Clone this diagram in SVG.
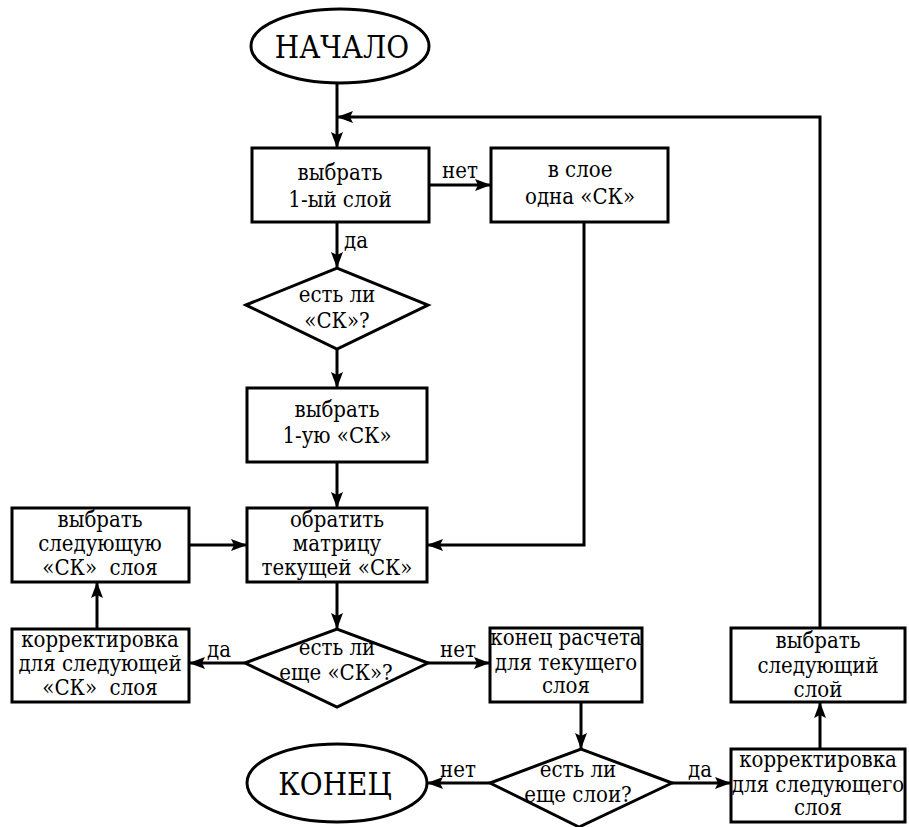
<svg xmlns="http://www.w3.org/2000/svg" width="909" height="827" viewBox="0 0 909 827">
<defs>
<marker id="arr" markerUnits="userSpaceOnUse" markerWidth="18" markerHeight="14" refX="16" refY="7" orient="auto">
<path d="M0,1 L16,7 L0,13 L3,7 z" fill="#000"/>
</marker>
<style>
.s{fill:#fff;stroke:#000;stroke-width:3}
.c{fill:none;stroke:#000;stroke-width:3;marker-end:url(#arr)}
text{font-family:'DejaVu Serif',serif;font-stretch:condensed;fill:#000;text-anchor:middle;font-size:22px}
.big{font-size:31px}
</style>
</defs>
<rect width="909" height="827" fill="#fff"/>
<g id="connectors">
<path class="c" d="M337,83 V148"/>
<path class="c" d="M820,628 V117 H337"/>
<path class="c" d="M429,185 H491"/>
<path class="c" d="M337,222 V268"/>
<path class="c" d="M337,349 V388"/>
<path class="c" d="M337,462 V508"/>
<path class="c" d="M584,222 V545 H427"/>
<path class="c" d="M189,545 H247"/>
<path class="c" d="M337,582 V629"/>
<path class="c" d="M245,663 H189"/>
<path class="c" d="M97,629 V582"/>
<path class="c" d="M428,663 H490"/>
<path class="c" d="M581,702 V749"/>
<path class="c" d="M490,783 H427"/>
<path class="c" d="M672,783 H731"/>
<path class="c" d="M820,749 V702"/>
<text x="460" y="178">нет</text>
<text x="356" y="248">да</text>
<text x="219" y="657">да</text>
<text x="458" y="657">нет</text>
<text x="458" y="777">нет</text>
<text x="700" y="777">да</text>
</g>
<g id="start">
<ellipse class="s" cx="340" cy="46" rx="89" ry="37"/>
<text class="big" x="342" y="58">НАЧАЛО</text>
</g>
<g id="select-first-layer">
<rect class="s" x="252" y="148" width="177" height="74"/>
<text x="340" y="180">выбрать</text>
<text x="340" y="207">1-ый слой</text>
</g>
<g id="one-sk">
<rect class="s" x="491" y="148" width="177" height="74"/>
<text x="580" y="177">в слое</text>
<text x="580" y="204">одна «СК»</text>
</g>
<g id="is-sk">
<polygon class="s" points="246,305 337,268 428,305 337,349"/>
<text x="337" y="302">есть ли</text>
<text x="337" y="328">«СК»?</text>
</g>
<g id="select-first-sk">
<rect class="s" x="247" y="388" width="180" height="74"/>
<text x="337" y="417">выбрать</text>
<text x="337" y="443">1-ую «СК»</text>
</g>
<g id="invert-matrix">
<rect class="s" x="247" y="508" width="180" height="74"/>
<text x="337" y="527">обратить</text>
<text x="337" y="551">матрицу</text>
<text x="337" y="575">текущей «СК»</text>
</g>
<g id="select-next-sk">
<rect class="s" x="12" y="508" width="177" height="74"/>
<text x="100" y="527">выбрать</text>
<text x="100" y="551">следующую</text>
<text x="100" y="575" xml:space="preserve">«СК»  слоя</text>
</g>
<g id="correct-next-sk">
<rect class="s" x="12" y="629" width="177" height="73"/>
<text x="100" y="647">корректировка</text>
<text x="100" y="671">для следующей</text>
<text x="100" y="695" xml:space="preserve">«СК»  слоя</text>
</g>
<g id="more-sk">
<polygon class="s" points="245,663 337,629 428,663 337,707"/>
<text x="337" y="655">есть ли</text>
<text x="336" y="680">еще «СК»?</text>
</g>
<g id="end-layer">
<rect class="s" x="490" y="628" width="152" height="74"/>
<text x="566" y="645">конец расчета</text>
<text x="566" y="670">для текущего</text>
<text x="566" y="693">слоя</text>
</g>
<g id="more-layers">
<polygon class="s" points="490,783 581,749 672,783 579,827"/>
<text x="578" y="777">есть ли</text>
<text x="578" y="802">еще слои?</text>
</g>
<g id="end">
<ellipse class="s" cx="337" cy="783" rx="90" ry="39"/>
<text class="big" x="335" y="795">КОНЕЦ</text>
</g>
<g id="correct-next-layer">
<rect class="s" x="731" y="749" width="174" height="73"/>
<text x="818" y="767">корректировка</text>
<text x="818" y="792">для следующего</text>
<text x="818" y="815">слоя</text>
</g>
<g id="select-next-layer">
<rect class="s" x="731" y="628" width="174" height="74"/>
<text x="818" y="648">выбрать</text>
<text x="818" y="673">следующий</text>
<text x="818" y="697">слой</text>
</g>
</svg>
